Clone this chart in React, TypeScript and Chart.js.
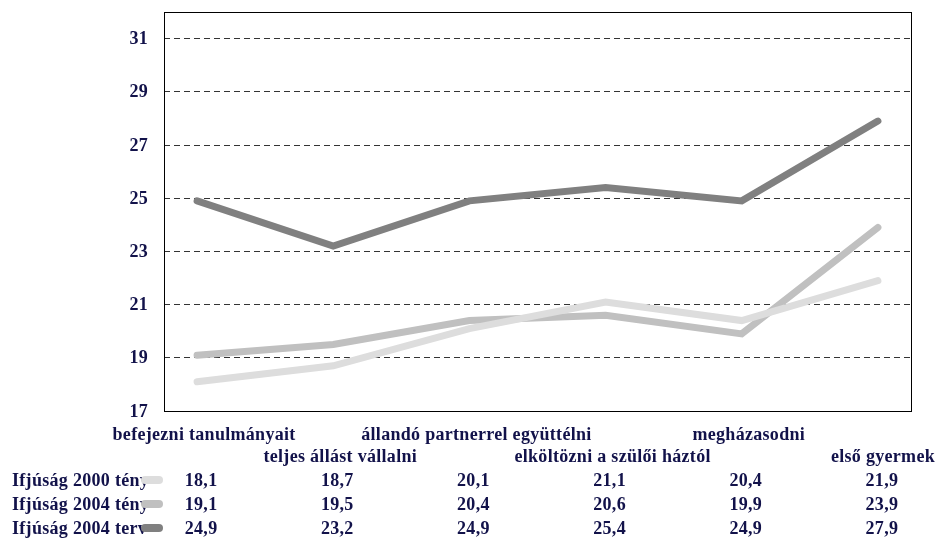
import { useEffect, useRef } from 'react';
import { Chart, registerables } from 'chart.js';

Chart.register(...registerables);

const categories = [
  'befejezni tanulmányait',
  'teljes állást vállalni',
  'állandó partnerrel együttélni',
  'elköltözni a szülői háztól',
  'megházasodni',
  'első gyermek',
];
const seriesNames = ['Ifjúság 2000 tény', 'Ifjúság 2004 tény', 'Ifjúság 2004 terv'];
const ifjusag2000Teny = [18.1, 18.7, 20.1, 21.1, 20.4, 21.9];
const ifjusag2004Teny = [19.1, 19.5, 20.4, 20.6, 19.9, 23.9];
const ifjusag2004Terv = [24.9, 23.2, 24.9, 25.4, 24.9, 27.9];
const yTicks = [17, 19, 21, 23, 25, 27, 29, 31];
const seriesColors = ['#dddddd', '#c0c0c0', '#808080'];

const TEXT = '#12124a';
const FONT = 'bold 18px "Liberation Serif", "Times New Roman", serif';

const fmt = (v: number) => v.toFixed(1).replace('.', ',');

export default function App() {
  const ref = useRef<HTMLCanvasElement | null>(null);

  useEffect(() => {
    if (!ref.current) return;
    const series = [ifjusag2000Teny, ifjusag2004Teny, ifjusag2004Terv];

    const framePlugin = {
      id: 'frameAndTable',
      afterDraw(chart: any) {
        const { ctx, chartArea } = chart;
        const xs = chart.scales.x;
        const ys = chart.scales.y;
        ctx.save();
        ctx.strokeStyle = '#000000';
        ctx.lineWidth = 1;
        ctx.setLineDash([]);
        ctx.strokeRect(
          Math.round(chartArea.left) + 0.5,
          Math.round(chartArea.top) + 0.5,
          Math.round(chartArea.right - chartArea.left),
          Math.round(chartArea.bottom - chartArea.top)
        );

        ctx.font = FONT;
        (ctx as any).letterSpacing = '0.3px';
        ctx.fillStyle = TEXT;
        ctx.textBaseline = 'middle';

        // y tick labels
        ctx.textAlign = 'right';
        yTicks.forEach((t) => {
          ctx.fillText(String(t), 148, ys.getPixelForValue(t) + 1);
        });

        // category labels (staggered)
        ctx.textAlign = 'left';
        categories.forEach((c, i) => {
          const px = xs.getPixelForValue(i) + 7;
          const w = ctx.measureText(c).width;
          let left = px - w / 2;
          if (left + w > 935) left = 935 - w;
          ctx.fillText(c, left, i % 2 === 0 ? 435 : 457);
        });

        const rowY = [481, 505, 529];
        series.forEach((vals, s) => {
          ctx.textAlign = 'left';
          ctx.fillStyle = TEXT;
          ctx.fillText(seriesNames[s], 12, rowY[s]);
          // legend swatch
          ctx.strokeStyle = seriesColors[s];
          ctx.lineWidth = 8;
          ctx.lineCap = 'round';
          ctx.beginPath();
          ctx.moveTo(145, rowY[s] - 1);
          ctx.lineTo(159, rowY[s] - 1);
          ctx.stroke();
          ctx.textAlign = 'center';
          vals.forEach((v, i) => {
            ctx.fillText(fmt(v), xs.getPixelForValue(i) + 4, rowY[s]);
          });
        });
        ctx.restore();
      },
    };

    const chart = new Chart(ref.current, {
      type: 'line',
      data: {
        datasets: series.map((vals, s) => ({
          label: seriesNames[s],
          data: vals.map((y, i) => ({ x: i, y })),
          borderColor: seriesColors[s],
          backgroundColor: seriesColors[s],
          borderWidth: 7,
          borderCapStyle: 'round' as const,
          borderJoinStyle: 'miter' as const,
          pointRadius: 0,
          tension: 0,
          fill: false,
        })),
      },
      options: {
        animation: false,
        responsive: false,
        devicePixelRatio: 1,
        layout: { padding: { left: 0, right: 26, top: 12, bottom: 131 } },
        plugins: { legend: { display: false }, tooltip: { enabled: false } },
        scales: {
          x: {
            type: 'linear',
            display: false,
            min: -0.243,
            max: 5.243,
          },
          y: {
            min: 17,
            max: 32,
            afterBuildTicks: (scale: any) => {
              scale.ticks = yTicks.map((v) => ({ value: v }));
            },
            afterFit: (scale: any) => {
              scale.width = 164;
              scale.paddingTop = 0;
              scale.paddingBottom = 0;
            },
            border: { display: false, dash: [6, 4] },
            grid: {
              drawTicks: false,
              lineWidth: 1,
              color: (c: any) => (c.tick && c.tick.value === 17 ? 'rgba(0,0,0,0)' : '#333333'),
            },
            ticks: { display: false },
          },
        },
      },
      plugins: [framePlugin],
    });
    return () => chart.destroy();
  }, []);

  return (
    <div style={{ position: 'fixed', left: 0, top: 0, width: 937, height: 542, background: '#ffffff' }}>
      <canvas ref={ref} width={937} height={542} style={{ display: 'block', width: 937, height: 542 }} />
    </div>
  );
}
